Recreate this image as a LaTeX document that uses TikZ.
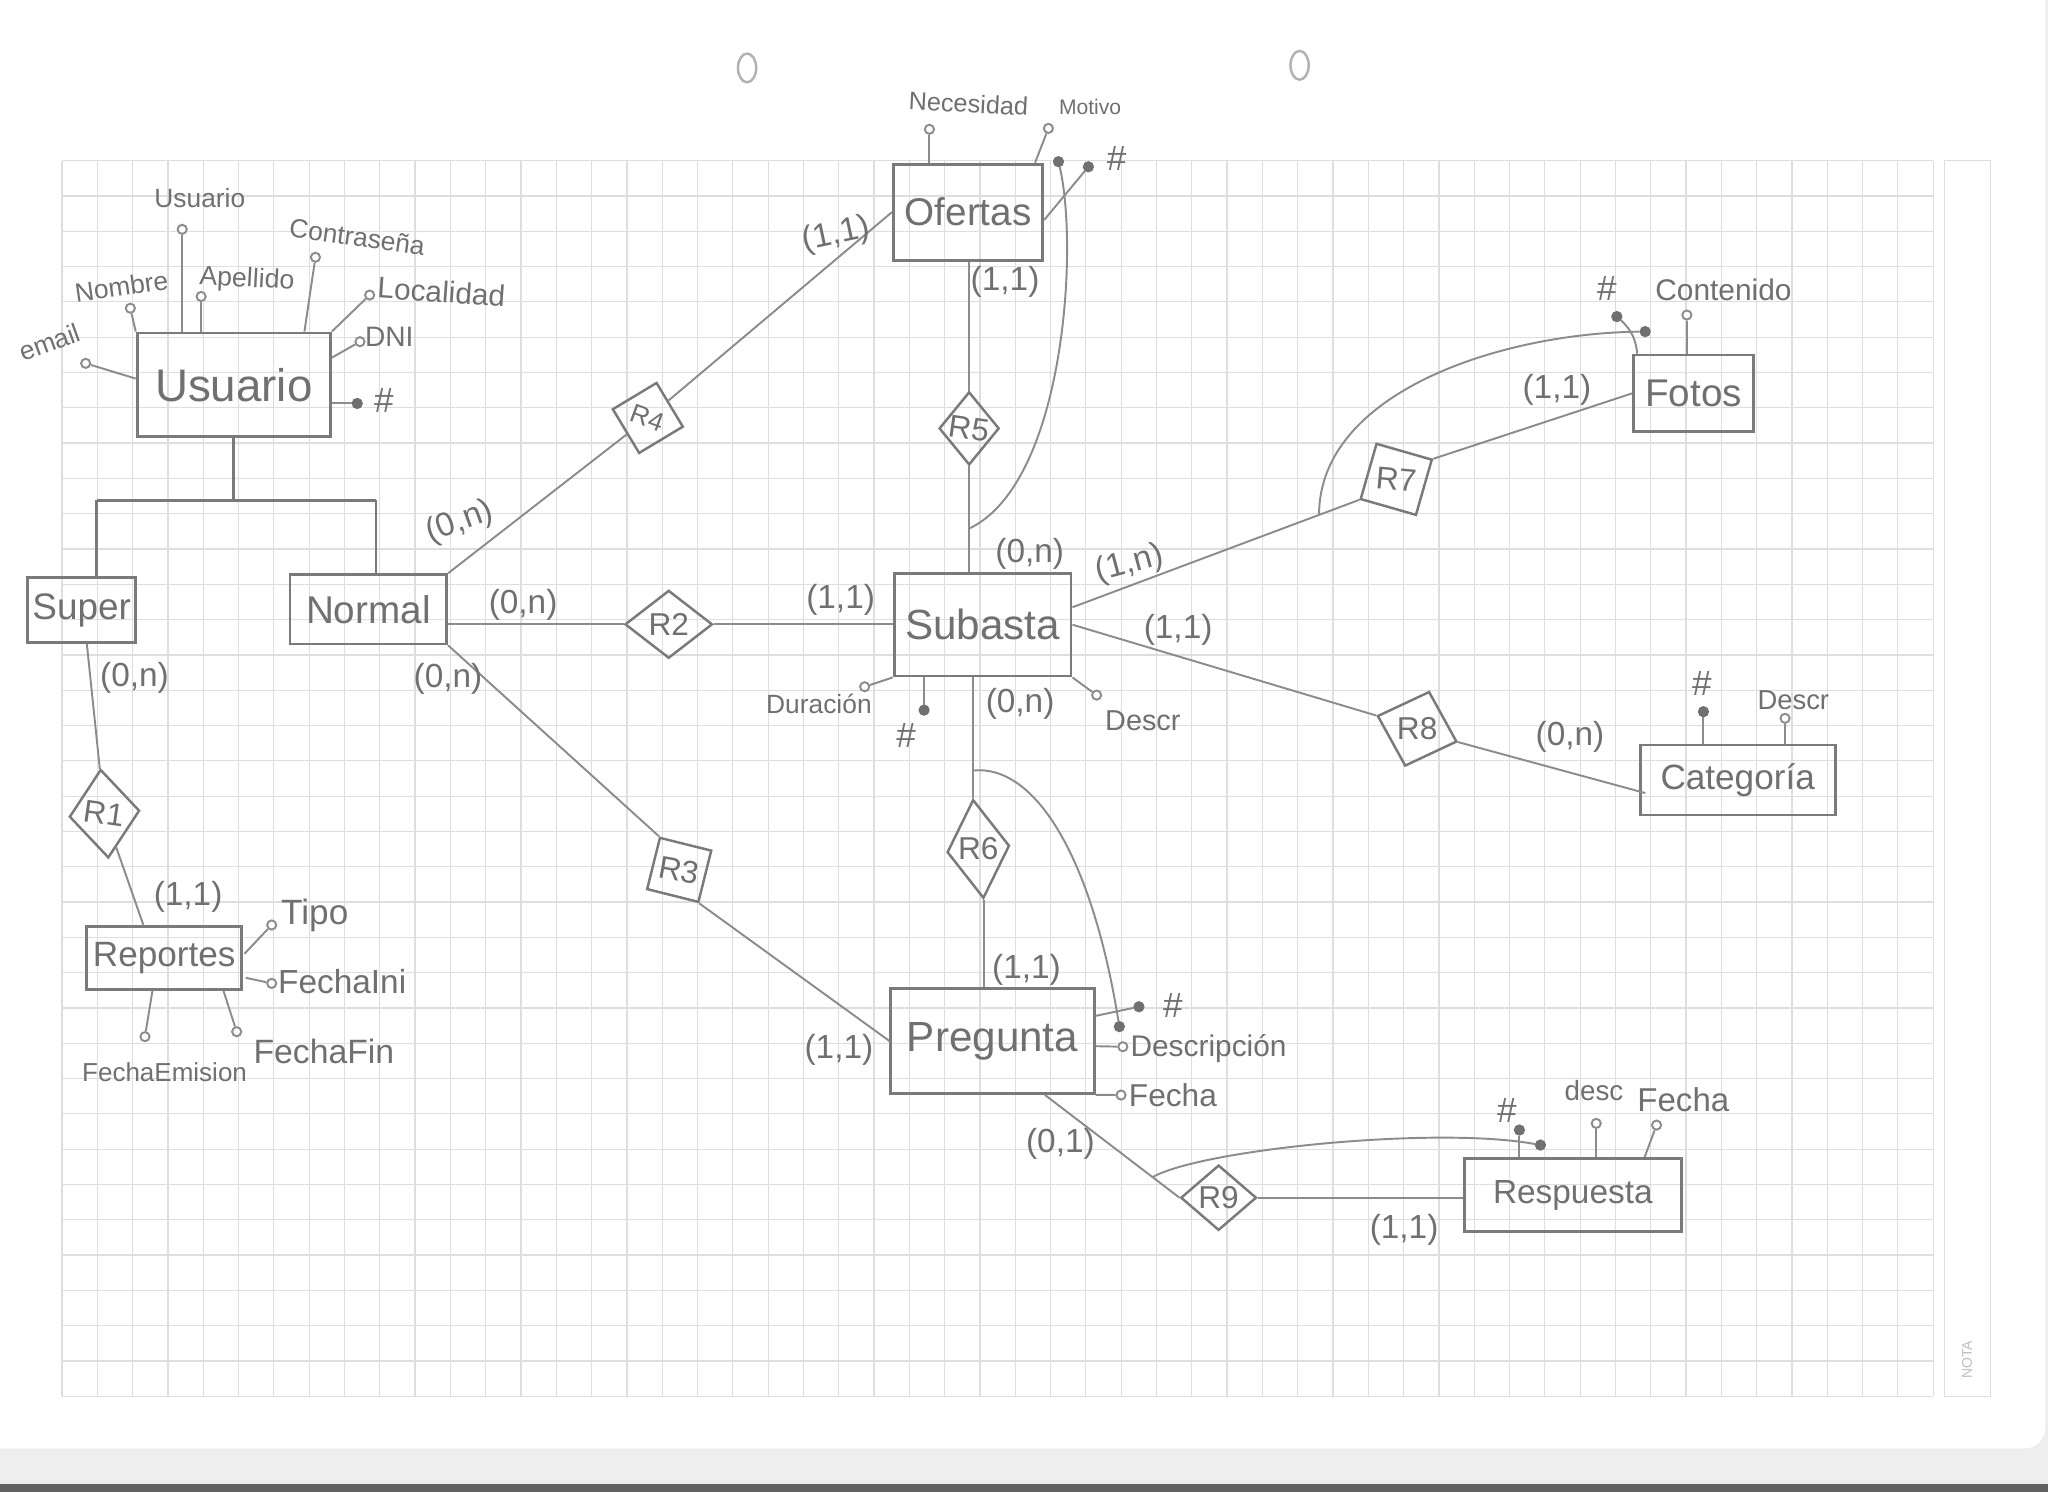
\documentclass[tikz,border=0pt]{standalone}
\usepackage{fontspec}
\setmainfont{Liberation Sans}
\usetikzlibrary{shapes.geometric,calc}
\definecolor{pencil}{HTML}{8C8C8C}
\definecolor{boxline}{HTML}{7A7A7A}
\definecolor{lead}{HTML}{707070}
\definecolor{gridline}{HTML}{DCDFE2}
\definecolor{under}{HTML}{EEEEEE}
\newcommand\pxu{0.01306cm}
\begin{document}
\begin{tikzpicture}[x=0.01306cm,y=-0.01306cm,
  entbox/.style={draw=boxline,line width=0.8pt,inner sep=0pt,text=lead,font=\fontsize{#1}{#1}\selectfont},
  dims/.style 2 args={minimum width=#1*\pxu,minimum height=#2*\pxu},
  reln/.style={diamond,draw=boxline,line width=0.7pt,inner sep=0pt},
  rlbl/.style={text=lead,inner sep=0pt,font=\fontsize{9}{9}\selectfont},
  link/.style={draw=pencil,line width=0.55pt},
  isaline/.style={draw=boxline,line width=0.75pt},
  attc/.style={circle,draw=pencil,line width=0.55pt,fill=white,inner sep=0pt,minimum size=7*\pxu},
  keydot/.style={circle,draw=lead,fill=lead,line width=0.4pt,inner sep=0pt,minimum size=7.5*\pxu},
  txt/.style={text=lead,inner sep=0pt,font=\fontsize{#1}{#1}\selectfont},
  card/.style={text=lead,inner sep=0pt,font=\fontsize{9.5}{9.5}\selectfont},
]
% sheet of squared paper
\useasboundingbox (0,0) rectangle (1568,1142);
\fill[under] (0,0) rectangle (1568,1142);
\fill[white] (0,0) -- (1566,0) -- (1566,1093) arc[start angle=0,end angle=90,radius=16] -- (0,1109) -- cycle;
\fill[black!62] (0,1136) rectangle (1568,1142);
\draw[black!30,line width=0.7pt] (572,52) ellipse [x radius=7,y radius=11];
\draw[black!30,line width=0.7pt] (995,50) ellipse [x radius=7,y radius=11];
\foreach \i in {0,...,53} \draw[gridline,line width=0.35pt] ({47.5+27.03*\i},123) -- ({47.5+27.03*\i},1069);
\foreach \j in {0,...,35} \draw[gridline,line width=0.35pt] (47.5,{123+27.03*\j}) -- (1480.1,{123+27.03*\j});
\draw[gridline,line width=0.35pt] (1489,123) rectangle (1524,1069);
\node[text=black!25,rotate=90,inner sep=0pt,font=\fontsize{4}{4}\selectfont] (nota) at (1506,1041) {NOTA};

% entities
\node[entbox=13,dims={148}{79.5}] (usuario) at (179,294.7) {Usuario};
\node[entbox=10.5,dims={83}{50}] (super) at (62.5,467) {Super};
\node[entbox=11,dims={120}{53}] (normal) at (282,466.5) {Normal};
\node[entbox=11,dims={114.4}{73.5}] (ofertas) at (741.2,162.4) {Ofertas};
\node[entbox=12,dims={135.5}{78.6}] (subasta) at (752.3,478.3) {Subasta};
\node[entbox=10,dims={118.7}{48.5}] (reportes) at (125.7,733.3) {Reportes};
\node[entbox=12,dims={155.8}{80.3}] (pregunta) at (759.9,797) {Pregunta};
\node[entbox=9.5,dims={165.8}{56}] (respuesta) at (1204.2,915) {Respuesta};
\node[entbox=11,dims={92}{58.7}] (fotos) at (1296.6,301.2) {Fotos};
\node[entbox=10,dims={149.3}{53.6}] (categoria) at (1330.4,597.2) {Categoría};

% relationships
\node[reln,dims={54}{68},rotate=5] (r1) at (80,623) {};
\node[reln,dims={67}{52}] (r2) at (512,478) {};
\node[reln,dims={58}{58},rotate=31] (r3) at (520,666) {};
\node[reln,dims={56}{56},rotate=-14] (r4) at (496,320) {};
\node[reln,dims={46}{56}] (r5) at (742,328) {};
\node[reln,dims={48}{76},rotate=6] (r6) at (749,650) {};
\node[reln,dims={63}{63},rotate=29] (r7) at (1069,367) {};
\node[reln,dims={64}{60},rotate=-18] (r8) at (1085,558) {};
\node[reln,dims={58}{50}] (r9) at (933,917) {};
\node[rlbl,rotate=-8] (r1t) at (r1) {R1};
\node[rlbl] (r2t) at (r2) {R2};
\node[rlbl,rotate=-10] (r3t) at (r3) {R3};
\node[rlbl,rotate=-20,font=\fontsize{7.5}{7.5}\selectfont] (r4t) at (r4) {R4};
\node[rlbl,rotate=-8] (r5t) at (r5) {R5};
\node[rlbl] (r6t) at (r6) {R6};
\node[rlbl,rotate=-5] (r7t) at (r7) {R7};
\node[rlbl] (r8t) at (r8) {R8};
\node[rlbl] (r9t) at (r9) {R9};

% generalisation of Usuario
\coordinate (barL) at (74,383);
\coordinate (barR) at (288,383);
\draw[isaline] (barL) -- (barR);
\draw[isaline] (usuario.south) -- (usuario.south |- barL);
\draw[isaline] (barL) -- (barL |- super.north);
\draw[isaline] (barR) -- (barR |- normal.north);

% Usuario attributes
\node[attc] (uU) at (139.5,175.6) {};
\node[attc] (uNom) at (99.8,236) {};
\node[attc] (uApe) at (154,227) {};
\node[attc] (uCon) at (241.5,197) {};
\node[attc] (uLoc) at (283,225.9) {};
\node[attc] (uDni) at (275.6,261.6) {};
\node[keydot] (uKey) at (273.5,308.9) {};
\node[attc] (uMail) at (65.6,278.2) {};
\draw[link] (uU) -- (uU |- usuario.north);
\draw[link] (uNom) -- (usuario.north west);
\draw[link] (uApe) -- (uApe |- usuario.north);
\draw[link] (uCon) -- ($(usuario.north east)+(-21,0)$);
\draw[link] (uLoc) -- (usuario.north east);
\draw[link] (uDni) -- ($(usuario.north east)+(0,20)$);
\draw[link] (uKey) -- (uKey -| usuario.east);
\draw[link] (uMail) -- ($(usuario.north west)+(0,36)$);
\node[txt=7.5] (uUl) at (153,152) {Usuario};
\node[txt=7.5,rotate=8] (uNoml) at (93,219.5) {Nombre};
\node[txt=7.6,rotate=-3] (uApel) at (189,214.4) {Apellido};
\node[txt=7.5,rotate=-8] (uConl) at (273.5,181.2) {Contraseña};
\node[txt=8.5,rotate=-4] (uLocl) at (338,223.4) {Localidad};
\node[txt=8] (uDnil) at (298,257.8) {DNI};
\node[txt=10] (uKeyl) at (294,306.3) {\#};
\node[txt=7.5,rotate=20] (uMaill) at (38,262) {email};

% Super, R1 and Reportes
\draw[link] ($(super.south)+(4,0)$) -- (r1);
\draw[link] (r1) -- ($(reportes.north)+(-16,0)$);
\node[attc] (rTipo) at (208,708.2) {};
\node[attc] (rIni) at (208,752.9) {};
\node[attc] (rEmi) at (111,793.7) {};
\node[attc] (rFin) at (181.2,789.9) {};
\draw[link] (rTipo) -- ($(reportes.east)+(1,-3)$);
\draw[link] (rIni) -- ($(reportes.south east)+(2,-10)$);
\draw[link] (rEmi) -- ($(reportes.south)+(-9,0)$);
\draw[link] (rFin) -- ($(reportes.south east)+(-15,0)$);
\node[txt=10] (rTipol) at (241,700.6) {Tipo};
\node[txt=9.5] (rInil) at (262,751.6) {FechaIni};
\node[txt=7.4] (rEmil) at (126,821) {FechaEmision};
\node[txt=9.6] (rFinl) at (248,805) {FechaFin};

% Normal links
\draw[link] (normal.north east) -- (r4);
\draw[link] (r4) -- (ofertas.west);
\draw[link] (r2.west -| normal.east) -- (r2.west);
\draw[link] (r2.east) -- (r2.east -| subasta.west);
\draw[link] (normal.south east) -- (r3.north);
\draw[link] (r3.south) -- (pregunta.west);

% Ofertas attributes and R5
\node[attc] (oNec) at (711.6,99) {};
\node[attc] (oMot) at (802.7,98.3) {};
\node[keydot] (oK1) at (810.4,123.8) {};
\node[keydot] (oK2) at (833.3,127.7) {};
\draw[link] (oNec) -- (oNec |- ofertas.north);
\draw[link] (oMot) -- ($(ofertas.north east)+(-7,0)$);
\draw[link] (oK2) -- ($(ofertas.east)+(0,6)$);
\node[txt=7.2,rotate=-3] (oNecl) at (741.5,79.2) {Necesidad};
\node[txt=6] (oMotl) at (834.6,81.7) {Motivo};
\node[txt=10] (oKl) at (855,121.3) {\#};
\draw[link] (r5.north |- ofertas.south) -- (r5.north);
\coordinate (r5b) at (r5.south |- subasta.north);
\draw[link] (r5.south) -- (r5b);
\coordinate (r5k) at ($(r5.south)!0.59!(r5b)$);
\draw[link] (oK1) .. controls (826,190) and (815,370) .. (r5k);

% Subasta attributes
\node[attc] (sDur) at (662,525.8) {};
\node[keydot] (sKey) at (707.5,543.7) {};
\node[attc] (sDesc) at (839.6,532.2) {};
\draw[link] (sDur) -- (subasta.south west);
\draw[link] (sKey) -- (sKey |- subasta.south);
\draw[link] (sDesc) -- (subasta.south east);
\node[txt=7.5] (sDurl) at (627,538.6) {Duración};
\node[txt=10] (sKeyl) at (693.7,562.8) {\#};
\node[txt=8.2] (sDescl) at (875,552) {Descr};

% R6 and Pregunta
\coordinate (r6a) at (r6.north |- subasta.south);
\draw[link] (r6a) -- (r6.north);
\draw[link] (r6.south) -- (r6.south |- pregunta.north);
\coordinate (r6k) at ($(r6a)!0.77!(r6.north)$);
\node[keydot] (pK2) at (857,786) {};
\draw[link] (r6k) .. controls (790,585) and (835,650) .. (pK2);
\node[keydot] (pKey) at (872,770.8) {};
\node[attc] (pDesc) at (859.7,801.4) {};
\node[attc] (pFecha) at (858.3,838.4) {};
\draw[link] (pKey) -- ($(pregunta.north east)+(0,22)$);
\draw[link] (pDesc) -- ($(pregunta.east)+(0,4)$);
\draw[link] (pFecha) -- (pregunta.south east);
\node[txt=10] (pKeyl) at (898,769.5) {\#};
\node[txt=8.5] (pDescl) at (925.3,802.7) {Descripción};
\node[txt=9] (pFechal) at (898,838.4) {Fecha};

% R9 and Respuesta
\coordinate (pq) at ($(pregunta.south)+(40,0)$);
\draw[link] (pq) -- (r9.west);
\draw[link] (r9.east) -- (r9.east -| respuesta.west);
\coordinate (r9k) at ($(pq)!0.8!(r9.west)$);
\node[keydot] (rsK2) at (1179.4,876.7) {};
\draw[link] (r9k) .. controls (920,880) and (1100,862) .. (rsK2);
\node[keydot] (rsKey) at (1163.3,865.2) {};
\node[attc] (rsDesc) at (1222.1,860.1) {};
\node[attc] (rsFecha) at (1268.3,861.4) {};
\draw[link] (rsKey) -- (rsKey |- respuesta.north);
\draw[link] (rsDesc) -- (rsDesc |- respuesta.north);
\draw[link] (rsFecha) -- ($(respuesta.north east)+(-29,0)$);
\node[txt=10] (rsKeyl) at (1153.7,850) {\#};
\node[txt=7.9] (rsDescl) at (1220.4,834.6) {desc};
\node[txt=9.4] (rsFechal) at (1288.8,842.3) {Fecha};

% R7 and Fotos
\coordinate (s7) at ($(subasta.north east)+(0,27)$);
\draw[link] (s7) -- (r7.west);
\coordinate (r7k) at ($(s7)!0.86!(r7.west)$);
\node[keydot] (fK2) at (1259.6,253.9) {};
\draw[link] (r7k) .. controls (1010,300) and (1150,255) .. (fK2);
\draw[link] (r7.east) -- (fotos.west);
\node[keydot] (fK1) at (1237.9,242.4) {};
\node[attc] (fCont) at (1291.5,241.2) {};
\draw[link] (fK1) to[bend left=20] ($(fotos.north west)+(4,0)$);
\draw[link] (fCont) -- (fCont |- fotos.north);
\node[txt=10] (fKl) at (1230.2,220.8) {\#};
\node[txt=8.5] (fContl) at (1319.5,222) {Contenido};

% R8 and Categoria
\draw[link] (subasta.east) -- (r8.west);
\draw[link] (r8.east) -- ($(categoria.west)+(5,10)$);
\node[keydot] (cKey) at (1304.2,544.9) {};
\node[attc] (cDesc) at (1366.7,550) {};
\draw[link] (cKey) -- (cKey |- categoria.north);
\draw[link] (cDesc) -- (cDesc |- categoria.north);
\node[txt=10] (cKeyl) at (1303,523.2) {\#};
\node[txt=7.8] (cDescl) at (1373,536) {Descr};

% cardinalities
\node[card] (k1) at (103,519) {(0,n)};
\node[card] (k2) at (144,687) {(1,1)};
\node[card,rotate=20] (k3) at (352,400) {(0,n)};
\node[card,rotate=12] (k4) at (640,180) {(1,1)};
\node[card] (k5) at (400.5,463.3) {(0,n)};
\node[card] (k6) at (643.6,459.4) {(1,1)};
\node[card] (k7) at (343,519.4) {(0,n)};
\node[card] (k8) at (642.3,804) {(1,1)};
\node[card] (k9) at (769.5,215.7) {(1,1)};
\node[card] (k10) at (788.4,423.7) {(0,n)};
\node[card,rotate=15] (k11) at (865,432) {(1,n)};
\node[card] (k12) at (902,482) {(1,1)};
\node[card] (k13) at (781,538.6) {(0,n)};
\node[card] (k14) at (785.9,742.7) {(1,1)};
\node[card] (k15) at (811.9,875.5) {(0,1)};
\node[card] (k16) at (1075,941.8) {(1,1)};
\node[card] (k17) at (1192,298.6) {(1,1)};
\node[card] (k18) at (1202,564) {(0,n)};
\end{tikzpicture}
\end{document}
